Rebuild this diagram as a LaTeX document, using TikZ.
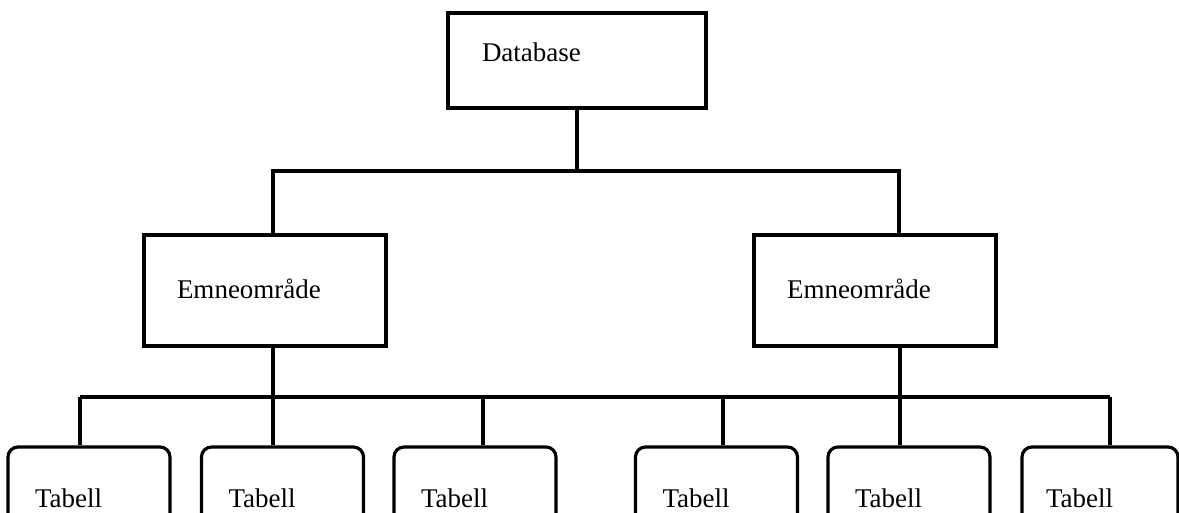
\documentclass[tikz,border=0pt]{standalone}
\usepackage{fontspec}
\setmainfont{Liberation Serif}
\begin{document}
\begin{tikzpicture}[x=0.5pt,y=-0.5pt,
  every node/.style={font=\fontsize{13.5}{15}\selectfont},
  line/.style={line width=1.6pt},
  box/.style={draw,line width=1.6pt,inner ysep=0pt,align=left},
  dbbox/.style={box,inner xsep=17pt,text width=95pt,text height=24.5pt,text depth=23pt},
  embox/.style={box,inner xsep=16.5pt,text width=88pt,text height=32pt,text depth=23.5pt},
  tabbox/.style={box,rounded corners=5pt,inner xsep=13.5pt,text width=54pt,text height=30.5pt,text depth=16pt}
]
\useasboundingbox (0,0) rectangle (1179,513);
\clip (0,0) rectangle (1179,513);
\fill[white] (0,0) rectangle (1179,513);

\node[dbbox] (db) at (577,60.5) {Database};
\node[embox] (e1) at (265,290.5) {Emneområde};
\node[embox] (e2) at (875,290.5) {Emneområde};

\node[tabbox] (t1) at (89,493.5) {Tabell};
\node[tabbox] (t2) at (282.5,493.5) {Tabell};
\node[tabbox] (t3) at (475,493.5) {Tabell};
\node[tabbox] (t4) at (716.5,493.5) {Tabell};
\node[tabbox] (t5) at (909,493.5) {Tabell};
\node[tabbox,inner xsep=12pt,text width=54pt] (t6) at (1100,493.5) {Tabell};

% upper bus
\coordinate (j1) at (273,171);
\coordinate (j2) at (899,171);
\draw[line] (db.south) -- (db.south |- j1);
\draw[line] (j1 |- e1.north) -- (j1) -- (j2) -- (j2 |- e2.north);

% lower bus
\coordinate (b1) at (80,397);
\coordinate (b2) at (273,397);
\coordinate (b3) at (483,397);
\coordinate (b4) at (723,397);
\coordinate (b5) at (900,397);
\coordinate (b6) at (1110,397);
\draw[line] (b1) -- (b6);
\draw[line] (b2 |- e1.south) -- (b2);
\draw[line] (b5 |- e2.south) -- (b5);
\draw[line] (b1) -- (b1 |- t1.north);
\draw[line] (b2) -- (b2 |- t2.north);
\draw[line] (b3) -- (b3 |- t3.north);
\draw[line] (b4) -- (b4 |- t4.north);
\draw[line] (b5) -- (b5 |- t5.north);
\draw[line] (b6) -- (b6 |- t6.north);
\end{tikzpicture}
\end{document}
